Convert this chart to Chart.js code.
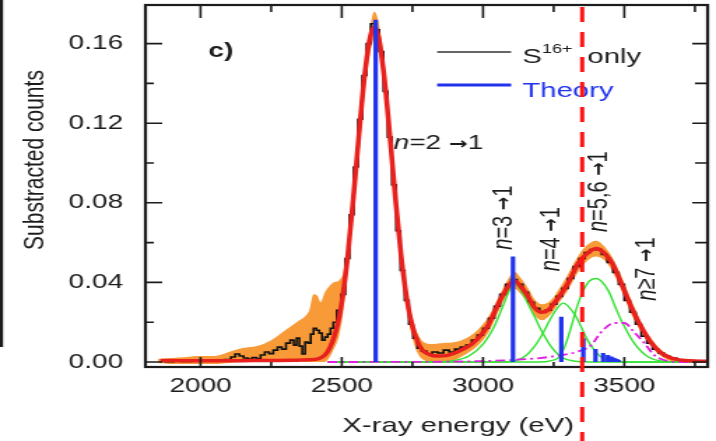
<!DOCTYPE html>
<html>
<head>
<meta charset="utf-8">
<title>S16+ X-ray spectrum</title>
<script src="https://cdn.jsdelivr.net/npm/chart.js@4.4.0/dist/chart.umd.min.js"></script>
<style>
  html, body { margin: 0; padding: 0; background: #fff; }
</style>
</head>
<body>
<!-- the original figure is stretched sideways, so the canvas is drawn narrow and shown wide -->
<canvas id="spectrum" width="512" height="441" style="width:716px;height:441px;display:block"></canvas>
<script>
// axis ticks
const xTicks = [2000, 2500, 3000, 3500];
const xMinorTicks = [2250, 2750, 3250, 3750];
const yTicks = [0, 0.04, 0.08, 0.12, 0.16];
const yMinorTicks = [0.02, 0.06, 0.10, 0.14];

// measured spectrum, "S16+ only" (eV, counts)
const dataE = [1860, 1890, 1920, 1950, 1980, 2010, 2040, 2070, 2100, 2115, 2130, 2145, 2160, 2175, 2190, 2205,
  2220, 2235, 2250, 2265, 2280, 2295, 2310, 2325, 2335, 2345, 2355, 2365, 2375, 2385, 2395, 2405, 2415, 2425,
  2435, 2445, 2455, 2465, 2475, 2490, 2505, 2520, 2535, 2550, 2565, 2580, 2595, 2610, 2625, 2640, 2655, 2670,
  2685, 2700, 2715, 2730, 2745, 2760, 2775, 2790, 2810, 2830, 2850, 2870, 2890, 2910, 2930, 2950, 2970, 2990,
  3010, 3030, 3050, 3070, 3090, 3110, 3130, 3150, 3170, 3190, 3210, 3230, 3250, 3270, 3290, 3310, 3330, 3350,
  3370, 3390, 3410, 3430, 3450, 3470, 3490, 3510, 3530, 3550, 3570, 3590, 3610, 3630, 3650, 3670, 3700, 3730,
  3760, 3790];
const dataCounts = [0.0005, 0.0002, 0.0008, 0.0003, 0.0006, 0.0004, 0.0010, 0.0005, 0.0012, 0.0025, 0.0040,
  0.0030, 0.0020, 0.0015, 0.0022, 0.0018, 0.0035, 0.0050, 0.0042, 0.0060, 0.0075, 0.0065, 0.0095, 0.0110,
  0.0085, 0.0120, 0.0080, 0.0040, 0.0100, 0.0095, 0.0140, 0.0170, 0.0160, 0.0145, 0.0110, 0.0125, 0.0140,
  0.0170, 0.0200, 0.026, 0.034, 0.052, 0.074, 0.098, 0.122, 0.144, 0.160, 0.170, 0.167, 0.156, 0.136, 0.113,
  0.089, 0.066, 0.046, 0.031, 0.019, 0.012, 0.007, 0.0055, 0.004, 0.005, 0.0045, 0.006, 0.005, 0.0065, 0.0075,
  0.0085, 0.011, 0.0135, 0.017, 0.022, 0.028, 0.034, 0.039, 0.0415, 0.039, 0.035, 0.030, 0.027, 0.025, 0.026,
  0.029, 0.033, 0.037, 0.042, 0.048, 0.052, 0.055, 0.0565, 0.0565, 0.054, 0.050, 0.045, 0.039, 0.031, 0.025,
  0.019, 0.013, 0.0095, 0.0065, 0.0045, 0.003, 0.002, 0.001, 0.0008, 0.0006, 0.0005];

// error band around the data
const bandE = [1850, 1900, 1950, 2000, 2050, 2100, 2150, 2200, 2250, 2300, 2340, 2370, 2385, 2400, 2415, 2425,
  2440, 2455, 2470, 2490, 2505, 2520, 2540, 2560, 2580, 2600, 2615, 2630, 2650, 2670, 2690, 2710, 2730, 2750,
  2770, 2790, 2820, 2860, 2900, 2940, 2980, 3020, 3060, 3090, 3110, 3135, 3160, 3185, 3210, 3240, 3270, 3300,
  3340, 3370, 3400, 3430, 3460, 3490, 3525, 3560, 3600, 3640, 3680, 3750, 3790];
const bandHi = [0.0015, 0.002, 0.0025, 0.003, 0.003, 0.005, 0.007, 0.008, 0.011, 0.016, 0.020, 0.023, 0.026,
  0.034, 0.033, 0.030, 0.035, 0.038, 0.040, 0.041, 0.045, 0.058, 0.085, 0.115, 0.146, 0.168, 0.176, 0.171,
  0.151, 0.120, 0.088, 0.059, 0.037, 0.022, 0.014, 0.010, 0.009, 0.0095, 0.010, 0.012, 0.016, 0.023, 0.034,
  0.042, 0.0455, 0.042, 0.037, 0.031, 0.029, 0.031, 0.037, 0.044, 0.054, 0.059, 0.061, 0.058, 0.052, 0.043,
  0.031, 0.020, 0.011, 0.005, 0.002, 0.001, 0.001];
const bandLo = [-0.0005, -0.001, -0.001, -0.001, -0.001, -0.0005, 0, 0, 0, 0.0005, 0.001, 0, 0, 0, 0, 0, 0,
  0.002, 0.006, 0.013, 0.025, 0.045, 0.073, 0.103, 0.134, 0.155, 0.162, 0.158, 0.138, 0.108, 0.076, 0.048,
  0.026, 0.012, 0.004, 0.001, 0, 0, 0.001, 0.004, 0.008, 0.015, 0.027, 0.035, 0.037, 0.034, 0.029, 0.023,
  0.021, 0.024, 0.030, 0.036, 0.046, 0.051, 0.053, 0.051, 0.045, 0.036, 0.024, 0.015, 0.007, 0.002, 0,
  -0.0005, -0.0005];

// total fit (red)
const fitE = [1858, 1950, 2050, 2150, 2250, 2330, 2380, 2420, 2450, 2480, 2500, 2520, 2540, 2560, 2580, 2600,
  2615, 2630, 2650, 2670, 2690, 2710, 2730, 2750, 2780, 2810, 2840, 2870, 2900, 2922, 2960, 2993, 3020, 3039,
  3060, 3080, 3095, 3110, 3135, 3160, 3181, 3206, 3230, 3252, 3280, 3301, 3320, 3337, 3372, 3401, 3429, 3461,
  3489, 3525, 3560, 3596, 3631, 3667, 3727, 3790];
const fitCounts = [0.0008, 0.0006, 0.0006, 0.0007, 0.0008, 0.0009, 0.0011, 0.0018, 0.0052, 0.0160, 0.0300,
  0.0520, 0.0810, 0.1130, 0.1430, 0.1630, 0.1685, 0.1635, 0.1435, 0.1140, 0.0820, 0.0535, 0.0320, 0.0180,
  0.0070, 0.0038, 0.0030, 0.0032, 0.0045, 0.0060, 0.0090, 0.0136, 0.0190, 0.0246, 0.0310, 0.0360, 0.0392,
  0.0410, 0.0377, 0.0327, 0.0276, 0.0250, 0.0260, 0.0296, 0.0350, 0.0397, 0.0450, 0.0497, 0.0550, 0.0570,
  0.0547, 0.0487, 0.0397, 0.0276, 0.0176, 0.0095, 0.0045, 0.0020, 0.0006, 0.0004];

// fit components (green) and the n>=7 tail (magenta)
const n3E = [2450, 2800, 2900, 2950, 3000, 3040, 3070, 3090, 3108, 3130, 3160, 3185, 3206, 3240, 3277, 3320, 3400, 3790];
const n3Counts = [0, 0, 0.0008, 0.003, 0.009, 0.018, 0.028, 0.035, 0.040, 0.037, 0.029, 0.022, 0.016, 0.008, 0.0025, 0.0005, 0, 0];
const n4E = [2450, 3050, 3120, 3150, 3180, 3206, 3240, 3265, 3284, 3305, 3330, 3370, 3400, 3418, 3460, 3500, 3790];
const n4Counts = [0, 0, 0.001, 0.003, 0.0075, 0.013, 0.022, 0.0275, 0.0296, 0.0275, 0.0226, 0.011, 0.0048, 0.0025, 0.0003, 0, 0];
const n56E = [2450, 3200, 3266, 3290, 3312, 3337, 3372, 3401, 3443, 3470, 3489, 3535, 3585, 3631, 3700, 3790];
const n56Counts = [0, 0, 0.002, 0.008, 0.0176, 0.0296, 0.040, 0.042, 0.036, 0.027, 0.021, 0.0095, 0.0025, 0.0005, 0, 0];
const n7E = [2450, 2900, 3000, 3100, 3200, 3280, 3330, 3383, 3418, 3465, 3500, 3535, 3571, 3606, 3640, 3700, 3790];
const n7Counts = [0, 0.0002, 0.0005, 0.001, 0.002, 0.0035, 0.005, 0.0085, 0.015, 0.0196, 0.0196, 0.015, 0.0095, 0.0035, 0.001, 0, 0];

// theory line positions and strengths (blue sticks)
const theoryE = [2620, 3106, 3277, 3355, 3398, 3425, 3442, 3454, 3462, 3468, 3473, 3477, 3480];
const theoryH = [0.172, 0.053, 0.0227, 0.012, 0.0065, 0.0045, 0.0035, 0.0028, 0.0022, 0.0018, 0.0015, 0.0012, 0.001];

const cutE = 3351; // red dashed marker

const FONT = '"Liberation Sans", Arial, Helvetica, sans-serif';
const ARROW_FONT = '"DejaVu Sans", sans-serif';
const INK = '#1c1c1c';
const RED = '#e8201e';
const BLUE = '#2233ee';
const GREEN = '#33e233';
const MAGENTA = '#e01ee0';
const ORANGE = '#f89a38';

const pts = (xs, ys) => xs.map((x, i) => ({ x: x, y: ys[i] }));

const theoryPts = [];
theoryE.forEach((e, i) => {
    theoryPts.push({ x: e, y: 0 }, { x: e, y: theoryH[i] }, { x: e, y: null });
});

function partFont(p) {
    return (p.i ? 'italic ' : '') + (p.b ? 'bold ' : '') + (p.size || 20) + 'px ' + (p.f || FONT);
}

function richWidth(c, parts) {
    let w = 0;
    parts.forEach(p => {
        c.font = partFont(p);
        w += c.measureText(p.t).width;
    });
    return w;
}

function drawRich(c, parts, x, y) {
    let cx = x;
    parts.forEach(p => {
        c.font = partFont(p);
        c.fillText(p.t, cx, y + (p.dy || 0));
        cx += c.measureText(p.t).width;
    });
}

const arrow = { t: '\u2192', f: ARROW_FONT, b: true, size: 16 };

// labels for the transitions, placed in data units
const labels = [
    { parts: [{ t: 'n', i: true }, { t: '=2 ' }, arrow, { t: '1' }], e: 2684, v: 0.1069, rot: false },
    { parts: [{ t: 'n', i: true }, { t: '=3 ' }, arrow, { t: '1' }], e: 3074, v: 0.0725, rot: true },
    { parts: [{ t: 'n', i: true }, { t: '=4 ' }, arrow, { t: '1' }], e: 3245, v: 0.0617, rot: true },
    { parts: [{ t: 'n', i: true }, { t: '=5,6 ' }, arrow, { t: '1' }], e: 3411, v: 0.0856, rot: true },
    { parts: [{ t: 'n', i: true }, { t: '\u22657 ' }, arrow, { t: '1' }], e: 3582, v: 0.0467, rot: true }
];

const decor = {
    id: 'decor',
    beforeDraw(chart) {
        const c = chart.ctx;
        c.save();
        c.fillStyle = '#fff';
        c.fillRect(0, 0, chart.width, chart.height);
        c.restore();
    },
    afterDraw(chart) {
        const c = chart.ctx;
        const a = chart.chartArea;
        const xs = chart.scales.x;
        const ys = chart.scales.y;
        c.save();

        // edge of the neighbouring panel
        c.fillStyle = INK;
        c.fillRect(0, 0, 2.2, 347);

        // frame with inward ticks
        c.strokeStyle = INK;
        c.lineWidth = 2.2;
        c.strokeRect(a.left, a.top, a.right - a.left, a.bottom - a.top);
        c.lineWidth = 1.6;
        c.beginPath();
        const xTick = (v, top, bottom) => {
            const px = xs.getPixelForValue(v);
            c.moveTo(px, a.top); c.lineTo(px, a.top + top);
            c.moveTo(px, a.bottom); c.lineTo(px, a.bottom - bottom);
        };
        const yTick = (v, left, right) => {
            const py = ys.getPixelForValue(v);
            c.moveTo(a.left, py); c.lineTo(a.left + left, py);
            c.moveTo(a.right, py); c.lineTo(a.right - right, py);
        };
        xTicks.forEach(v => xTick(v, 13, 10));
        xMinorTicks.forEach(v => xTick(v, 7, 5));
        yTicks.forEach(v => yTick(v, 12, 11));
        yMinorTicks.forEach(v => yTick(v, 6, 9));
        c.stroke();

        // legend
        c.lineWidth = 1.3;
        c.strokeStyle = '#333';
        c.beginPath(); c.moveTo(312.6, 52); c.lineTo(365.5, 52); c.stroke();
        c.lineWidth = 3;
        c.strokeStyle = BLUE;
        c.beginPath(); c.moveTo(312.6, 85); c.lineTo(365.5, 85); c.stroke();
        c.textAlign = 'left';
        c.textBaseline = 'alphabetic';
        c.fillStyle = INK;
        drawRich(c, [{ t: 'S', size: 21 }, { t: '16+', size: 13, dy: -10 }], 373.4, 63);
        c.font = '21px ' + FONT;
        c.fillText('only', 420, 63);
        c.fillStyle = BLUE;
        c.fillText('Theory', 373.4, 97);

        // panel letter
        c.fillStyle = INK;
        c.font = 'bold 20px ' + FONT;
        c.fillText('c)', xs.getPixelForValue(2028), ys.getPixelForValue(0.1531));

        // transition labels
        labels.forEach(l => {
            const px = xs.getPixelForValue(l.e);
            const py = ys.getPixelForValue(l.v);
            if (!l.rot) {
                c.textBaseline = 'alphabetic';
                drawRich(c, l.parts, px, py);
            } else {
                const w = richWidth(c, l.parts);
                c.save();
                c.translate(px, py);
                c.rotate(-Math.PI / 2);
                c.textBaseline = 'middle';
                drawRich(c, l.parts, -w / 2, 0);
                c.restore();
            }
        });

        // axis titles
        c.font = '21px ' + FONT;
        c.textAlign = 'center';
        c.textBaseline = 'alphabetic';
        c.fillText('X-ray energy (eV)', 327.6, 432);
        c.save();
        c.translate(25.7, 160);
        c.rotate(-Math.PI / 2);
        c.textBaseline = 'middle';
        c.fillText('Substracted counts', 0, 0);
        c.restore();

        // red dashed marker over everything
        const cx = xs.getPixelForValue(cutE);
        c.strokeStyle = '#ff1414';
        c.lineWidth = 3;
        c.setLineDash([15, 10]);
        c.beginPath(); c.moveTo(cx, 7); c.lineTo(cx, chart.height); c.stroke();

        c.restore();
    }
};

const smooth = { pointRadius: 0, cubicInterpolationMode: 'monotone', fill: false };

// axis boxes keep the fixed plot frame; no extra room for label overhang
const noPad = axis => {
    axis.paddingTop = 0;
    axis.paddingBottom = 0;
    axis.paddingLeft = 0;
    axis.paddingRight = 0;
};

new Chart(document.getElementById('spectrum').getContext('2d'), {
    type: 'line',
    data: {
        datasets: [
            { label: 'Theory', data: theoryPts, borderColor: BLUE, borderWidth: 3.2, borderCapStyle: 'butt', pointRadius: 0, fill: false, order: 0 },
            Object.assign({ label: 'Fit', data: pts(fitE, fitCounts), borderColor: RED, borderWidth: 3.5, order: 1 }, smooth),
            Object.assign({ label: 'n>=7', data: pts(n7E, n7Counts), borderColor: MAGENTA, borderWidth: 1.8, borderDash: [7, 3, 2, 3], order: 2 }, smooth),
            Object.assign({ label: 'n=3', data: pts(n3E, n3Counts), borderColor: GREEN, borderWidth: 1.4, order: 3 }, smooth),
            Object.assign({ label: 'n=4', data: pts(n4E, n4Counts), borderColor: GREEN, borderWidth: 1.4, order: 3 }, smooth),
            Object.assign({ label: 'n=5,6', data: pts(n56E, n56Counts), borderColor: GREEN, borderWidth: 1.4, order: 3 }, smooth),
            { label: 'S16+ only', data: pts(dataE, dataCounts), borderColor: '#111', borderWidth: 1.6, stepped: 'middle', pointRadius: 0, fill: false, order: 4 },
            Object.assign({ label: 'err lo', data: pts(bandE, bandLo), borderColor: 'transparent', borderWidth: 0, order: 6 }, smooth),
            Object.assign({ label: 'err hi', data: pts(bandE, bandHi), borderColor: 'transparent', borderWidth: 0, order: 5 }, smooth, { fill: { target: 7 }, backgroundColor: ORANGE })
        ]
    },
    options: {
        responsive: false,
        animation: false,
        devicePixelRatio: 1,
        layout: { padding: { left: 0, right: 6, top: 5, bottom: 0 } },
        plugins: { legend: { display: false }, tooltip: { enabled: false } },
        scales: {
            x: {
                type: 'linear',
                min: 1805,
                max: 3795,
                grid: { display: false, drawTicks: false },
                border: { display: false },
                afterBuildTicks: axis => { axis.ticks = xTicks.map(v => ({ value: v })); },
                afterFit: axis => { axis.height = 74; noPad(axis); },
                ticks: {
                    padding: 7,
                    maxRotation: 0,
                    autoSkip: false,
                    color: INK,
                    font: { family: FONT, size: 20 },
                    callback: v => String(v)
                }
            },
            y: {
                type: 'linear',
                min: -0.0025,
                max: 0.1794,
                grid: { display: false, drawTicks: false },
                border: { display: false },
                afterBuildTicks: axis => { axis.ticks = yTicks.map(v => ({ value: v })); },
                afterFit: axis => { axis.width = 104; noPad(axis); },
                ticks: {
                    padding: 16,
                    color: INK,
                    font: { family: FONT, size: 20 },
                    callback: v => v.toFixed(2)
                }
            }
        }
    },
    plugins: [decor]
});
</script>
</body>
</html>
